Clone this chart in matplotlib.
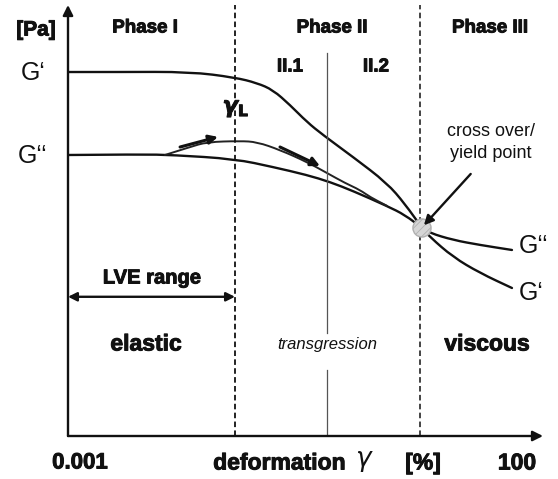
import numpy as np
import matplotlib
matplotlib.use('Agg')
import matplotlib.pyplot as plt
from matplotlib.path import Path
from matplotlib.patches import PathPatch
import matplotlib.patheffects as pe

W, H = 558, 479
FONT = 'Liberation Sans'
plt.rcParams['font.family'] = [FONT, 'DejaVu Sans']
plt.rcParams['lines.scale_dashes'] = False
plt.rcParams['hatch.linewidth'] = 0.6

# ---- data: strain in %, modulus in arbitrary units ----
strain_G1 = [0.001, 0.00379, 0.02284, 0.07244, 0.1273, 0.1919, 0.2966, 0.4583, 0.6912,
             1.494, 3.567, 5.659, 8.750, 10.74, 19.37, 38.70, 87.90]
G_storage = [84.45, 84.45, 84.5, 83.18, 81.90, 80.28, 76.80, 72.85, 69.84,
             64.73, 58.70, 53.83, 48.26, 46.17, 41.53, 37.82, 34.34]

strain_G2 = [0.001, 0.00634, 0.01476, 0.07244, 0.1919, 0.4583, 0.8275, 1.494,
             3.567, 5.659, 8.750, 10.74, 19.37, 38.70, 87.90]
G_loss = [65.20, 65.35, 65.20, 64.27, 62.41, 60.56, 58.93, 56.84,
          53.36, 51.28, 48.26, 47.10, 45.48, 44.32, 43.16]

strain_path = [0.0120, 0.02284, 0.03532, 0.08226, 0.1273, 0.2296, 0.4583, 0.7656,
               1.216, 1.786, 2.307, 3.567]
G_path = [65.20, 67.05, 68.21, 68.45, 68.21, 66.36, 63.57, 61.02,
          58.70, 57.08, 55.45, 53.40]

gamma_L = 0.0724
gamma_II = 0.77
gamma_cross = 8.32
cross_point = (8.75, 48.26)
lve_level = 32.3

fig = plt.figure(figsize=(W / 100, H / 100), dpi=100)
fig.patch.set_facecolor('white')
ax = fig.add_axes([68 / W, 43 / H, 475 / W, 431 / H])
ax.set_xscale('log')
ax.set_xlim(0.001, 194.8)
ax.set_ylim(0, 100)
ax.axis('off')


def fp(x, y):
    return (x / W, 1 - y / H)


def smooth_curve(xs, ys, **kw):
    """Quadratic-Bezier smoothing through the read points (log-x space)."""
    lx = np.log10(xs)
    ys = np.asarray(ys, float)
    verts = [(xs[0], ys[0])]
    codes = [Path.MOVETO]
    for i in range(1, len(xs) - 1):
        mx = 10 ** ((lx[i] + lx[i + 1]) / 2)
        my = (ys[i] + ys[i + 1]) / 2
        verts += [(xs[i], ys[i]), (mx, my)]
        codes += [Path.CURVE3, Path.CURVE3]
    verts.append((xs[-1], ys[-1]))
    codes.append(Path.LINETO)
    patch = PathPatch(Path(verts, codes), facecolor='none', **kw)
    ax.add_patch(patch)


arrow_kw = dict(color='#111111', shrinkA=0, shrinkB=0)

# axes with arrows
ax.annotate('', xy=(1, 0), xytext=(0, 0), xycoords='axes fraction',
            arrowprops=dict(arrowstyle='-|>', lw=1.7, mutation_scale=15, **arrow_kw))
ax.annotate('', xy=(0, 1), xytext=(0, 0), xycoords='axes fraction',
            arrowprops=dict(arrowstyle='-|>', lw=1.7, mutation_scale=15, **arrow_kw))

# vertical phase boundaries
ax.plot([gamma_L, gamma_L], [0, 100], color='#111111', lw=1.3, dashes=(4, 2.4))
ax.plot([gamma_cross, gamma_cross], [0, 100], color='#111111', lw=1.1, dashes=(4, 2.4))
ax.plot([gamma_II, gamma_II], [0, 15.3], color='#555555', lw=0.9)
ax.plot([gamma_II, gamma_II], [23.9, 88.9], color='#555555', lw=0.9)

# curves
smooth_curve(strain_G1, G_storage, edgecolor='#111111', lw=1.7, capstyle='round')
smooth_curve(strain_G2, G_loss, edgecolor='#111111', lw=1.7, capstyle='round')
smooth_curve(strain_path, G_path, edgecolor='#222222', lw=1.4, capstyle='round')

# direction arrows along path
ax.annotate('', xy=(0.0468, 69.4), xytext=(0.0177, 67.05),
            arrowprops=dict(arrowstyle='-|>', lw=2.2, mutation_scale=13, **arrow_kw))
ax.annotate('', xy=(0.640, 62.65), xytext=(0.2296, 67.05),
            arrowprops=dict(arrowstyle='-|>', lw=2.2, mutation_scale=13, **arrow_kw))

# crossover point
ax.scatter([cross_point[0]], [cross_point[1]], s=170, color='#d6d6d6',
           edgecolor='#b0b0b0', linewidth=1.0, hatch='////', zorder=5)

# crossover arrow
ax.annotate('', xy=(9.2, 48.9), xytext=(30.5, 60.8),
            arrowprops=dict(arrowstyle='-|>', lw=1.7, mutation_scale=14, **arrow_kw),
            zorder=6)

# LVE range double arrow
ax.annotate('', xy=(gamma_L, lve_level), xytext=(0.001, lve_level),
            arrowprops=dict(arrowstyle='<|-|>', lw=1.7, mutation_scale=13, **arrow_kw))

# ---- texts ----
heavy = [pe.withStroke(linewidth=0.7, foreground='#111111')]
bold = dict(fontweight='bold', ha='center', va='center', color='#111111',
            path_effects=heavy)
fig.text(*fp(36, 30), '[Pa]', fontsize=15, **bold)
fig.text(*fp(145, 28), 'Phase I', fontsize=13.5, **bold)
fig.text(*fp(332, 28), 'Phase II', fontsize=13.5, **bold)
fig.text(*fp(490, 28), 'Phase III', fontsize=13.5, **bold)
fig.text(*fp(290, 67), 'II.1', fontsize=13.5, **bold)
fig.text(*fp(376, 67), 'II.2', fontsize=13.5, **bold)

reg = dict(ha='center', va='center', color='#111111')
fig.text(*fp(33, 73), 'G‘', fontsize=18, **reg)
fig.text(*fp(33, 156), 'G‘‘', fontsize=18, **reg)
fig.text(*fp(534, 246), 'G‘‘', fontsize=18, **reg)
fig.text(*fp(531, 293), 'G‘', fontsize=18, **reg)

fig.text(*fp(236, 108), r'$\boldsymbol{\gamma}_{\mathbf{L}}$', fontsize=16,
         path_effects=heavy, **reg)

fig.text(*fp(491, 131), 'cross over/', fontsize=13, **reg)
fig.text(*fp(491, 153), 'yield point', fontsize=13, **reg)

fig.text(*fp(152, 278), 'LVE range', fontsize=14.5, **bold)
fig.text(*fp(146, 344), 'elastic', fontsize=16.5, **bold)
fig.text(*fp(327, 345), 'transgression', fontsize=12, style='italic', **reg)
fig.text(*fp(487, 344), 'viscous', fontsize=16.5, **bold)

fig.text(*fp(80, 463), '0.001', fontsize=16, **bold)
fig.text(*fp(279, 463), 'deformation', fontsize=16.5, **bold)
fig.text(*fp(364, 462), r'$\gamma$', fontsize=19, **reg)
fig.text(*fp(423, 463), '[%]', fontsize=16.5, **bold)
fig.text(*fp(517, 463), '100', fontsize=16.5, **bold)

fig.savefig('out.png', dpi=100, facecolor='white')
